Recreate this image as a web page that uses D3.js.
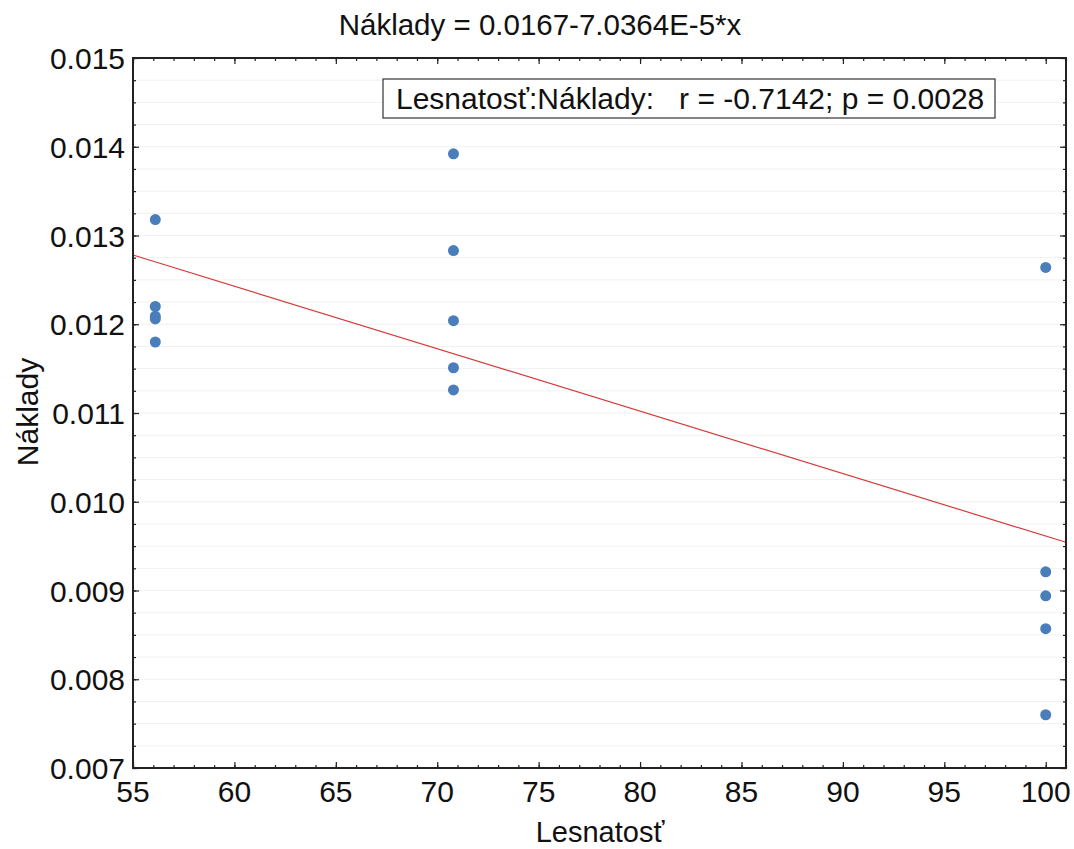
<!DOCTYPE html>
<html lang="cs">
<head>
<meta charset="UTF-8">
<title>Lesnatosť vs Náklady</title>
<script src="https://d3js.org/d3.v7.min.js"></script>
<style>
  body, html { margin: 0; background: #fff; }
  svg { display: block; font-family: "Liberation Sans", Arial, sans-serif; }
</style>
</head>
<body>
<svg width="1074" height="849"></svg>
<script>
// data
const lesnatost = [56.1, 56.1, 56.1, 56.1, 56.1,
                   70.8, 70.8, 70.8, 70.8, 70.8,
                   100, 100, 100, 100, 100];
const naklady = [0.01318, 0.01220, 0.01209, 0.01206, 0.01180,
                 0.01392, 0.01283, 0.01204, 0.01151, 0.01126,
                 0.01264, 0.00921, 0.00894, 0.00857, 0.00760];
// fit line (title shows the intercept rounded to 0.0167)
const intercept = 0.01665, slope = -7.0364e-5;
const xTicks = [55, 60, 65, 70, 75, 80, 85, 90, 95, 100];
const yTicks = [0.007, 0.008, 0.009, 0.010, 0.011, 0.012, 0.013, 0.014, 0.015];
const titleText = "Náklady = 0.0167-7.0364E-5*x";
const statText = "Lesnatosť:Náklady:   r = -0.7142; p = 0.0028";

const svg = d3.select("svg");
const m = {left: 133, top: 58, right: 1066, bottom: 768};

const x = d3.scaleLinear().domain([55, 101]).range([m.left, m.right]);
const y = d3.scaleLinear().domain([0.007, 0.015]).range([m.bottom, m.top]);

// horizontal grid (every minor step)
const yMinor = d3.range(0.007, 0.015 + 1e-9, 0.00025);
svg.append("g").selectAll("line").data(yMinor).enter().append("line")
  .attr("x1", m.left).attr("x2", m.right)
  .attr("y1", d => y(d)).attr("y2", d => y(d))
  .attr("stroke", "#f1f1f1").attr("stroke-width", 1);

// regression line
svg.append("line")
  .attr("x1", x(55)).attr("y1", y(intercept + slope * 55))
  .attr("x2", x(101)).attr("y2", y(intercept + slope * 101))
  .attr("stroke", "#d43a3a").attr("stroke-width", 1.2);

// points
svg.append("g").selectAll("circle").data(lesnatost).enter().append("circle")
  .attr("cx", d => x(d))
  .attr("cy", (d, i) => y(naklady[i]))
  .attr("r", 5.5)
  .attr("fill", "#4a7ebb");

// axes, ticks inside on all four sides
const xMinor = d3.range(55, 102, 1);
function ticksAxis(axisFn, scale, vals, len, tr) {
  const g = svg.append("g").attr("transform", tr)
    .call(axisFn(scale).tickValues(vals).tickSize(len).tickFormat(""));
  g.select(".domain").remove();
  g.selectAll(".tick line").attr("stroke", "#222").attr("stroke-width", 1.2);
  return g;
}
ticksAxis(d3.axisTop, x, xMinor, 3, `translate(0,${m.bottom})`);
ticksAxis(d3.axisTop, x, xTicks, 6, `translate(0,${m.bottom})`);
ticksAxis(d3.axisBottom, x, xMinor, 3, `translate(0,${m.top})`);
ticksAxis(d3.axisBottom, x, xTicks, 6, `translate(0,${m.top})`);
ticksAxis(d3.axisRight, y, yMinor, 3, `translate(${m.left},0)`);
ticksAxis(d3.axisRight, y, yTicks, 6, `translate(${m.left},0)`);
ticksAxis(d3.axisLeft, y, yMinor, 3, `translate(${m.right},0)`);
ticksAxis(d3.axisLeft, y, yTicks, 6, `translate(${m.right},0)`);

// frame
svg.append("rect")
  .attr("x", m.left).attr("y", m.top)
  .attr("width", m.right - m.left).attr("height", m.bottom - m.top)
  .attr("fill", "none").attr("stroke", "#222").attr("stroke-width", 2);

// tick labels
svg.append("g").selectAll("text").data(xTicks).enter().append("text")
  .attr("x", d => x(d)).attr("y", 802)
  .attr("text-anchor", "middle").attr("font-size", 30).attr("fill", "#111")
  .text(d => d);
svg.append("g").selectAll("text").data(yTicks).enter().append("text")
  .attr("x", 125).attr("y", d => y(d) + 11)
  .attr("text-anchor", "end").attr("font-size", 30).attr("fill", "#111")
  .text(d => d3.format(".3f")(d));

// title and axis titles
svg.append("text").attr("x", 540).attr("y", 35)
  .attr("text-anchor", "middle").attr("font-size", 29.5).attr("fill", "#111")
  .text(titleText);
svg.append("text").attr("x", 600).attr("y", 842)
  .attr("text-anchor", "middle").attr("font-size", 29).attr("fill", "#111")
  .text("Lesnatosť");
svg.append("text")
  .attr("transform", "translate(38,412) rotate(-90)")
  .attr("text-anchor", "middle").attr("font-size", 30).attr("fill", "#111")
  .text("Náklady");

// stats box
svg.append("rect").attr("x", 383).attr("y", 79).attr("width", 612).attr("height", 39)
  .attr("fill", "#fff").attr("stroke", "#333").attr("stroke-width", 1.2);
svg.append("text").attr("x", 396).attr("y", 109)
  .attr("font-size", 30).attr("fill", "#111")
  .style("white-space", "pre")
  .attr("xml:space", "preserve")
  .text(statText);
</script>
</body>
</html>
